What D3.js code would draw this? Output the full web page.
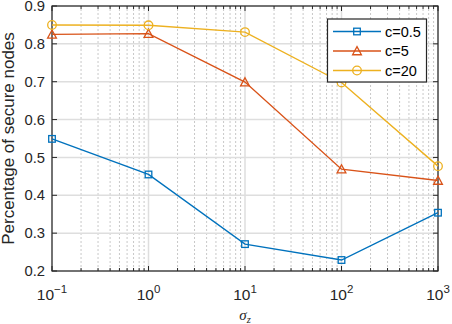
<!DOCTYPE html>
<html>
<head>
<meta charset="utf-8">
<script src="https://cdn.jsdelivr.net/npm/d3@7"></script>
<style>
  body { margin: 0; background: #fff; }
  svg { display: block; }
</style>
</head>
<body>
<svg id="chart" width="452" height="324"></svg>
<script>
// === data ===
const sigmaZ = [0.1, 1, 10, 100, 1000];
const secureC05 = [0.549, 0.455, 0.271, 0.229, 0.354];
const secureC5 = [0.825, 0.827, 0.699, 0.469, 0.439];
const secureC20 = [0.850, 0.849, 0.831, 0.698, 0.477];
const seriesNames = ["c=0.5", "c=5", "c=20"];
const yTicks = [0.2, 0.3, 0.4, 0.5, 0.6, 0.7, 0.8, 0.9];
const xMajorTicks = [0.1, 1, 10, 100, 1000];
const xTickExponents = ["-1", "0", "1", "2", "3"];

const W = 452, H = 324;
const margin = { top: 6, right: 14, bottom: 53, left: 52 };

const svg = d3.select("#chart");

const x = d3.scaleLog().domain([0.1, 1000]).range([margin.left, W - margin.right]);
const y = d3.scaleLinear().domain([0.2, 0.9]).range([H - margin.bottom, margin.top]);

const x0 = x.range()[0], x1 = x.range()[1];
const y0 = y.range()[0], y1 = y.range()[1];

// minor log ticks: 2..9 of each decade
const xMinorTicks = x.ticks().filter(t => !xMajorTicks.some(m => Math.abs(m - t) < 1e-9));

const axisColor = "#262626";

// grid
const grid = svg.append("g");
grid.selectAll("line.minor")
  .data(xMinorTicks)
  .enter().append("line")
  .attr("x1", d => x(d)).attr("x2", d => x(d))
  .attr("y1", y0).attr("y2", y1)
  .attr("stroke", "#c8c8c8")
  .attr("stroke-width", 1)
  .attr("stroke-dasharray", "2,2");

grid.selectAll("line.xmajor")
  .data(xMajorTicks)
  .enter().append("line")
  .attr("x1", d => x(d)).attr("x2", d => x(d))
  .attr("y1", y0).attr("y2", y1)
  .attr("stroke", "#dedede")
  .attr("stroke-width", 1.5);

grid.selectAll("line.ymajor")
  .data(yTicks)
  .enter().append("line")
  .attr("x1", x0).attr("x2", x1)
  .attr("y1", d => y(d)).attr("y2", d => y(d))
  .attr("stroke", "#dedede")
  .attr("stroke-width", 1.5);

// axes with inward ticks (MATLAB style), top/right mirrored
const tickG = svg.append("g").attr("stroke", axisColor).attr("stroke-width", 1);
yTicks.forEach(t => {
  tickG.append("line").attr("x1", x0).attr("x2", x0 + 5).attr("y1", y(t)).attr("y2", y(t));
  tickG.append("line").attr("x1", x1).attr("x2", x1 - 5).attr("y1", y(t)).attr("y2", y(t));
});
xMajorTicks.forEach(t => {
  tickG.append("line").attr("x1", x(t)).attr("x2", x(t)).attr("y1", y0).attr("y2", y0 - 5);
  tickG.append("line").attr("x1", x(t)).attr("x2", x(t)).attr("y1", y1).attr("y2", y1 + 5);
});
xMinorTicks.forEach(t => {
  tickG.append("line").attr("x1", x(t)).attr("x2", x(t)).attr("y1", y0).attr("y2", y0 - 3);
  tickG.append("line").attr("x1", x(t)).attr("x2", x(t)).attr("y1", y1).attr("y2", y1 + 3);
});

svg.append("rect")
  .attr("x", x0).attr("y", y1)
  .attr("width", x1 - x0).attr("height", y0 - y1)
  .attr("fill", "none")
  .attr("stroke", axisColor)
  .attr("stroke-width", 1.2);

// tick labels
const font = "'Liberation Sans', Arial, Helvetica, sans-serif";
svg.append("g").selectAll("text")
  .data(yTicks)
  .enter().append("text")
  .attr("x", x0 - 7)
  .attr("y", d => y(d) + 5.2)
  .attr("text-anchor", "end")
  .attr("font-family", font)
  .attr("font-size", 14.8)
  .attr("fill", axisColor)
  .text(d => d.toFixed(1));

const xl = svg.append("g").selectAll("text")
  .data(xMajorTicks)
  .enter().append("text")
  .attr("x", d => x(d))
  .attr("y", 300)
  .attr("text-anchor", "middle")
  .attr("font-family", font)
  .attr("fill", axisColor);
xl.append("tspan").attr("font-size", 15.5).text("10");
xl.append("tspan").attr("font-size", 11.5).attr("dy", -7)
  .text((d, i) => xTickExponents[i].replace("-", "\u2212"));

// axis labels
svg.append("text")
  .attr("transform", `translate(14,${(y0 + y1) / 2}) rotate(-90)`)
  .attr("text-anchor", "middle")
  .attr("font-family", font)
  .attr("font-size", 17)
  .attr("fill", axisColor)
  .text("Percentage of secure nodes");

const xlab = svg.append("text")
  .attr("x", (x0 + x1) / 2)
  .attr("y", 320)
  .attr("text-anchor", "middle")
  .attr("font-family", "'Liberation Serif', 'Times New Roman', serif")
  .attr("font-style", "italic")
  .attr("fill", axisColor);
xlab.append("tspan").attr("font-size", 15).text("\u03c3");
xlab.append("tspan").attr("font-size", 10.5).attr("dy", 2.5).text("z");

// series
const colors = ["#0072BD", "#D95319", "#EDB120"];
const allSeries = [secureC05, secureC5, secureC20];
const markers = ["square", "triangle", "circle"];

function drawMarker(g, type, cx, cy, color) {
  if (type === "square") {
    g.append("rect").attr("x", cx - 3.3).attr("y", cy - 3.3)
      .attr("width", 6.6).attr("height", 6.6)
      .attr("fill", "none").attr("stroke", color).attr("stroke-width", 1.3);
  } else if (type === "triangle") {
    const s = 4.4;
    g.append("path")
      .attr("d", `M${cx},${cy - s} L${cx + s},${cy + s * 0.85} L${cx - s},${cy + s * 0.85} Z`)
      .attr("fill", "none").attr("stroke", color).attr("stroke-width", 1.3);
  } else {
    g.append("circle").attr("cx", cx).attr("cy", cy).attr("r", 4.3)
      .attr("fill", "none").attr("stroke", color).attr("stroke-width", 1.3);
  }
}

const line = d3.line().x(d => x(d[0])).y(d => y(d[1]));

allSeries.forEach((vals, i) => {
  const pts = sigmaZ.map((s, j) => [s, vals[j]]);
  const g = svg.append("g");
  g.append("path")
    .attr("d", line(pts))
    .attr("fill", "none")
    .attr("stroke", colors[i])
    .attr("stroke-width", 1.4);
  pts.forEach(p => drawMarker(g, markers[i], x(p[0]), y(p[1]), colors[i]));
});

// legend
const leg = svg.append("g");
leg.append("rect")
  .attr("x", 327.5).attr("y", 19)
  .attr("width", 99).attr("height", 63)
  .attr("fill", "#fff")
  .attr("stroke", axisColor)
  .attr("stroke-width", 1.2);
seriesNames.forEach((name, i) => {
  const ly = 31.5 + i * 19.5;
  leg.append("line")
    .attr("x1", 333).attr("x2", 381)
    .attr("y1", ly).attr("y2", ly)
    .attr("stroke", colors[i]).attr("stroke-width", 1.4);
  drawMarker(leg, markers[i], 357, ly, colors[i]);
  leg.append("text")
    .attr("x", 385).attr("y", ly + 5.2)
    .attr("font-family", font)
    .attr("font-size", 14.5)
    .attr("fill", "#000")
    .text(name);
});
</script>
</body>
</html>
